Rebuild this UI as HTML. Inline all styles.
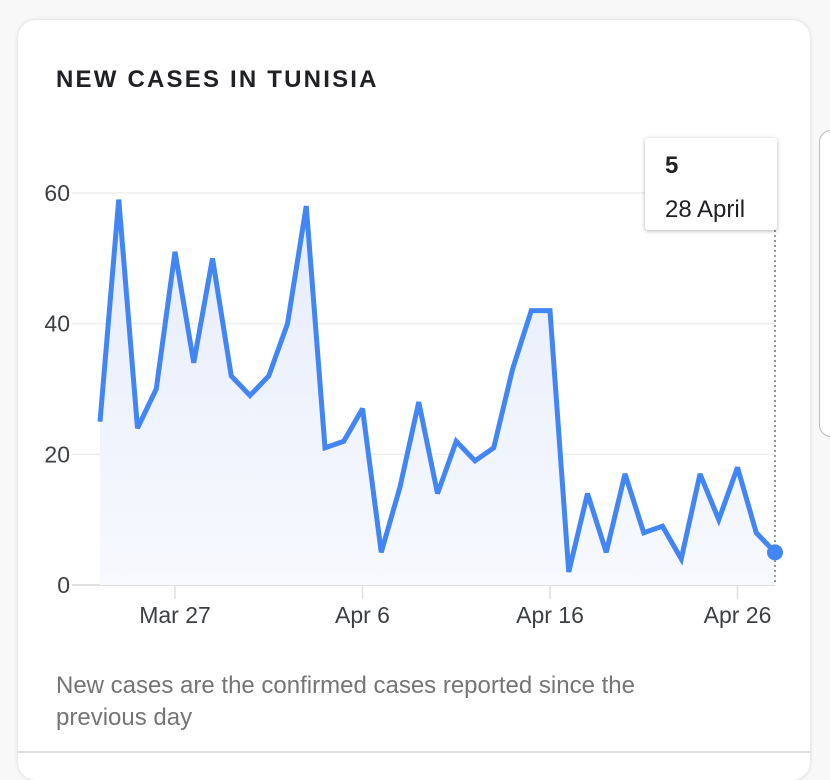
<!DOCTYPE html>
<html><head><meta charset="utf-8"><style>
body{margin:0;width:830px;height:758px;background:#f8f8f8;overflow:hidden;font-family:"Liberation Sans",sans-serif;position:relative}
.card{position:absolute;left:18px;top:20px;width:792px;height:760px;background:#fff;border-radius:18px;box-shadow:0 0 4px rgba(0,0,0,.15)}
.side{position:absolute;left:819px;top:130px;width:40px;height:305px;border:1px solid #bbb;border-radius:12px;background:#fff}
h1{position:absolute;left:56px;top:66px;margin:0;font-size:24px;font-weight:bold;letter-spacing:2.2px;color:#202124}
.note{position:absolute;left:56px;top:670px;font-size:24px;line-height:32px;color:#757575;width:650px}
.div{position:absolute;left:18px;top:751px;width:792px;height:2px;background:#ddd}
.tip{position:absolute;left:645px;top:138px;width:132px;height:92px;background:#fff;border-radius:3px;box-shadow:0 1px 4px rgba(0,0,0,.3)}
</style></head><body>
<div class="card"></div>
<div class="side"></div>
<h1>NEW CASES IN TUNISIA</h1>
<svg id="chart" width="830" height="758" style="position:absolute;left:0;top:0"><defs><linearGradient id="fg" x1="0" y1="0" x2="0" y2="1"><stop offset="0" stop-color="#e6ecfb"/><stop offset="1" stop-color="#f7f9fe"/></linearGradient></defs></svg>
<div class="tip">
<div style="position:absolute;left:20px;top:14px;font-size:24px;font-weight:bold;color:#202124">5</div>
<div style="position:absolute;left:20px;top:58px;font-size:24px;color:#202124">28 April</div>
</div>
<div class="note">New cases are the confirmed cases reported since the previous day</div>
<div class="div"></div>
<script>
const values=[25,59,24,30,51,34,50,32,29,32,40,58,21,22,27,5,15,28,14,22,19,21,33,42,42,2,14,5,17,8,9,4,17,10,18,8,5];
const yTicks=[0,20,40,60];
const xTickLabels=["Mar 27","Apr 6","Apr 16","Apr 26"];
const xTickIdx=[4,14,24,34];
const NS="http://www.w3.org/2000/svg";
const svg=document.getElementById('chart');
const x0=100,dx=18.75,y0=585,ky=(585-193)/60;
const X=i=>x0+i*dx, Y=v=>y0-v*ky;
function el(t,a){const e=document.createElementNS(NS,t);for(const k in a)e.setAttribute(k,a[k]);svg.appendChild(e);return e;}
yTicks.forEach(t=>{
 const g=el('line',{x1:72,x2:775,y1:Y(t),y2:Y(t),stroke:t==0?'#e0e0e0':'#eeeeee','stroke-width':t==0?2:1.5});
 
 
 const l=el('text',{x:70,y:Y(t)+8,'text-anchor':'end','font-size':23,fill:'#3c4043','font-family':'Liberation Sans'});
 l.textContent=t;
 
 
});
xTickLabels.forEach((s,k)=>{
 const x=X(xTickIdx[k]);
 const m=el('line',{x1:x,x2:x,y1:586,y2:599,stroke:'#e0e0e0','stroke-width':1.5});
 
 
 const l=el('text',{x:x,y:623,'text-anchor':'middle','font-size':23,fill:'#3c4043','font-family':'Liberation Sans'});
 l.textContent=s;
 
 
});
const pts=values.map((v,i)=>X(i)+','+Y(v));
const area=el('polygon',{points:X(0)+','+y0+' '+pts.join(' ')+' '+X(values.length-1)+','+y0,fill:'url(#fg)'});


const li=X(values.length-1);
const cl=el('line',{x1:li,x2:li,y1:230,y2:585,stroke:'#777','stroke-width':1.5,'stroke-dasharray':'2,3'});


const line=el('polyline',{points:pts.join(' '),fill:'none',stroke:'#4285f4','stroke-width':5,'stroke-linejoin':'miter','stroke-miterlimit':3});


const dot=el('circle',{cx:li,cy:Y(values[values.length-1]),r:8,fill:'#4285f4'});


</script>
</body></html>
